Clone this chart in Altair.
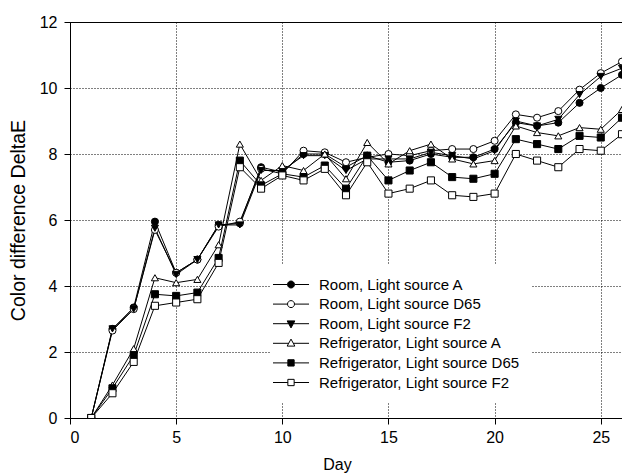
import altair as alt
import pandas as pd

days = list(range(1, 27))

series = [
    "Room, Light source A",
    "Room, Light source D65",
    "Room, Light source F2",
    "Refrigerator, Light source A",
    "Refrigerator, Light source D65",
    "Refrigerator, Light source F2",
]

room_a = [0, 2.7, 3.35, 5.95, 4.4, 4.8, 5.85, 5.9, 7.6, 7.45, 8.0, 8.0, 7.6, 7.95, 7.75, 7.8, 8.0, 7.9, 7.9, 8.15, 8.95, 8.85, 8.95, 9.55, 10.0, 10.4]
room_d65 = [0, 2.65, 3.3, 5.7, 4.4, 4.8, 5.8, 5.95, 7.55, 7.4, 8.1, 8.05, 7.75, 7.9, 8.0, 7.95, 8.1, 8.15, 8.15, 8.4, 9.2, 9.1, 9.3, 9.95, 10.45, 10.8]
room_f2 = [0, 2.7, 3.3, 5.75, 4.35, 4.8, 5.85, 5.85, 7.5, 7.5, 7.95, 7.95, 7.5, 7.85, 7.85, 7.85, 8.05, 7.95, 7.85, 8.1, 9.0, 8.85, 9.05, 9.8, 10.35, 10.6]
fr_a = [0, 1.0, 2.1, 4.25, 4.1, 4.2, 5.25, 8.3, 7.2, 7.65, 7.5, 8.0, 7.25, 8.35, 7.7, 8.1, 8.3, 7.85, 7.7, 7.8, 8.85, 8.65, 8.55, 8.8, 8.75, 9.35]
fr_d65 = [0, 0.9, 1.9, 3.75, 3.7, 3.8, 4.85, 7.8, 7.05, 7.4, 7.3, 7.65, 6.95, 7.95, 7.2, 7.5, 7.75, 7.3, 7.25, 7.4, 8.45, 8.3, 8.15, 8.55, 8.5, 9.1]
fr_f2 = [0, 0.75, 1.7, 3.4, 3.5, 3.6, 4.7, 7.6, 6.95, 7.35, 7.2, 7.55, 6.75, 7.75, 6.8, 6.95, 7.2, 6.75, 6.7, 6.8, 8.0, 7.8, 7.6, 8.15, 8.1, 8.6]

x_ticks = [0, 5, 10, 15, 20, 25]
y_ticks = [0, 2, 4, 6, 8, 10, 12]

all_values = [room_a, room_d65, room_f2, fr_a, fr_d65, fr_f2]
fills = ["black", "white", "black", "white", "black", "white"]
shapes = ["circle", "circle", "triangle-down", "triangle-up", "square", "square"]

rows = []
for s, shp, vals in zip(series, shapes, all_values):
    for d, v in zip(days, vals):
        rows.append({"day": d, "value": v, "series": s, "marker": shp})
df = pd.DataFrame(rows)

# legend symbols: a short line with the marker in its middle (custom SVG paths)
C = 0.43
L0, L1 = -4.71, 5.58


def seg(hw):
    return f"M{L0},0H{C - hw:.2f}M{C + hw:.2f},0H{L1}"


marker_paths = {
    "circle": seg(1.0) + f"M{C + 1:.2f},0A1,1,0,1,1,{C - 1:.2f},0A1,1,0,1,1,{C + 1:.2f},0Z",
    "square": seg(0.9) + f"M{C - 0.9:.2f},-0.9H{C + 0.9:.2f}V0.9H{C - 0.9:.2f}Z",
    "triangle-up": seg(0.66) + f"M{C:.2f},-1.2L{C + 1.1:.2f},0.8L{C - 1.1:.2f},0.8Z",
    "triangle-down": seg(0.66) + f"M{C:.2f},1.2L{C + 1.1:.2f},-0.8L{C - 1.1:.2f},-0.8Z",
}
legend_paths = [marker_paths[s] for s in shapes]
sym_expr = (
    "[" + ",".join("'" + p + "'" for p in legend_paths) + "]"
    + "[indexof([" + ",".join("'" + s + "'" for s in series) + "], datum.value)]"
)

FONT = "Liberation Sans"

x_enc = alt.X(
    "day:Q",
    scale=alt.Scale(domain=[0, 26], nice=False, zero=False),
    axis=alt.Axis(
        values=x_ticks, title="Day", format="d",
        titleX=267, titleFontSize=16, titlePadding=11, labelPadding=5,
    ),
)
y_enc = alt.Y(
    "value:Q",
    scale=alt.Scale(domain=[0, 12], nice=False),
    axis=alt.Axis(
        values=y_ticks, title="Color difference DeltaE", format="d",
        titleFontSize=19.5, titlePadding=11, labelPadding=7,
    ),
)

base = alt.Chart(df)

lines = base.mark_line(color="black", strokeWidth=1, clip=True).encode(
    x=x_enc, y=y_enc, detail="series:N"
)

points = base.mark_point(
    stroke="black", strokeWidth=1, size=50, opacity=1, clip=True
).encode(
    x="day:Q",
    y="value:Q",
    fill=alt.Fill(
        "series:N",
        scale=alt.Scale(domain=series, range=fills),
        legend=alt.Legend(
            title=None,
            orient="none",
            legendX=200,
            legendY=243,
            padding=12,
            fillColor="white",
            symbolSize=49,
            symbolStrokeWidth=1,
            symbolType={"expr": sym_expr},
            labelOffset=22,
            labelFontSize=15,
            labelFont=FONT,
            labelColor="black",
            rowPadding=3.6,
            labelLimit=400,
        ),
    ),
    shape=alt.Shape("marker:N", scale=None),
)

chart = (
    alt.layer(lines, points)
    .properties(
        width=552,
        height=396,
        autosize=alt.AutoSizeParams(type="none"),
        padding={"left": 70, "top": 22, "right": 0, "bottom": 58},
        background="white",
    )
    .configure_view(stroke="black", strokeWidth=1)
    .configure_axis(
        grid=True,
        gridColor="black",
        gridDash=[1, 2],
        gridWidth=1,
        gridOpacity=1,
        domainColor="black",
        tickColor="black",
        tickSize=6,
        labelFont=FONT,
        labelFontSize=16,
        labelColor="black",
        titleFont=FONT,
        titleFontWeight="normal",
        titleColor="black",
    )
)

chart.save("out.html", embed_options={"renderer": "svg", "actions": False})
